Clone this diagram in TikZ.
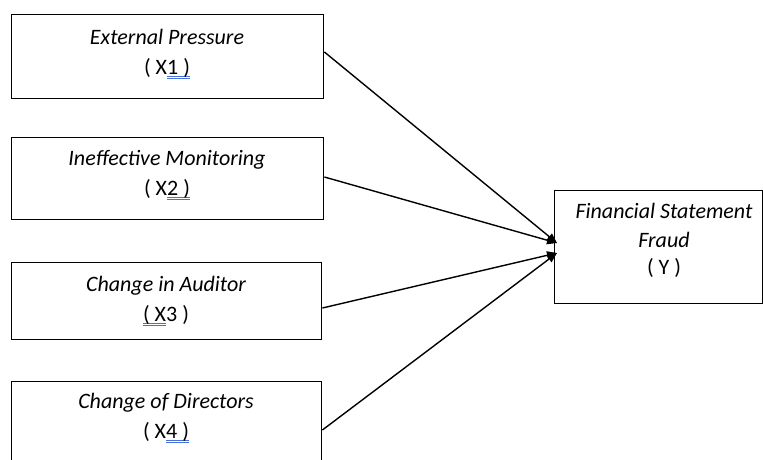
\documentclass[tikz,border=0pt]{standalone}
\usepackage{fontspec}
\setmainfont{Carlito}
\usetikzlibrary{arrows.meta}
\definecolor{ulblue}{RGB}{70,110,220}
\newsavebox\ulbox
% double blue underline under a piece of text
\newcommand\dblu[1]{\leavevmode\sbox\ulbox{#1}\rlap{\color{ulblue}\rule[-2.4pt]{\wd\ulbox}{0.6pt}\hskip-\wd\ulbox\rule[-4.4pt]{\wd\ulbox}{0.6pt}}\usebox\ulbox}
\begin{document}
\begin{tikzpicture}[x=1pt,y=-1pt,
  varbox/.style={draw=black,line width=1.4pt,rectangle,inner sep=0pt,anchor=north west},
  lbl/.style={inner sep=0pt,anchor=base,font=\fontsize{22}{29}\selectfont},
  ttl/.style={lbl,font=\fontsize{22}{29}\selectfont\itshape},
  link/.style={line width=1.4pt,-{Triangle[length=10pt,width=8pt]}}]
\useasboundingbox (0,0) rectangle (763,459);
\clip (0,0) rectangle (763,459);
% independent variables
\node[varbox,minimum width=312pt,minimum height=84pt] (x1) at (11,14) {};
\node[ttl] (x1a) at (167,44.5) {External Pressure};
\node[lbl] (x1b) at (167,74) {( X\dblu{1 )}};
\node[varbox,minimum width=312pt,minimum height=82pt] (x2) at (11,137) {};
\node[ttl] (x2a) at (167,165) {Ineffective Monitoring};
\node[lbl] (x2b) at (167,195) {( X\dblu{2 )}};
\node[varbox,minimum width=310pt,minimum height=77pt] (x3) at (11,262) {};
\node[ttl] (x3a) at (166,291.5) {Change in Auditor};
\node[lbl] (x3b) at (166,321.5) {\dblu{( X}3 )};
\node[varbox,minimum width=310pt,minimum height=100pt] (x4) at (11,381) {};
\node[ttl] (x4a) at (166,408.5) {Change of Directors};
\node[lbl] (x4b) at (166,438) {( X\dblu{4 )}};
% dependent variable
\node[varbox,minimum width=208pt,minimum height=113pt] (y) at (554,190) {};
\node[ttl] (ya1) at (664,218.5) {Financial Statement};
\node[ttl] (ya2) at (664,247) {Fraud};
\node[lbl] (ya3) at (664,274.5) {( Y )};
\coordinate (ya) at (557,243);
\coordinate (yb) at (557,253);
\draw[link] (x1.east |- 0,52) -- (ya);
\draw[link] (x2.east |- 0,177) -- (ya);
\draw[link] (x3.east |- 0,308) -- (yb);
\draw[link] (x4.east |- 0,430) -- (yb);
\end{tikzpicture}
\end{document}
